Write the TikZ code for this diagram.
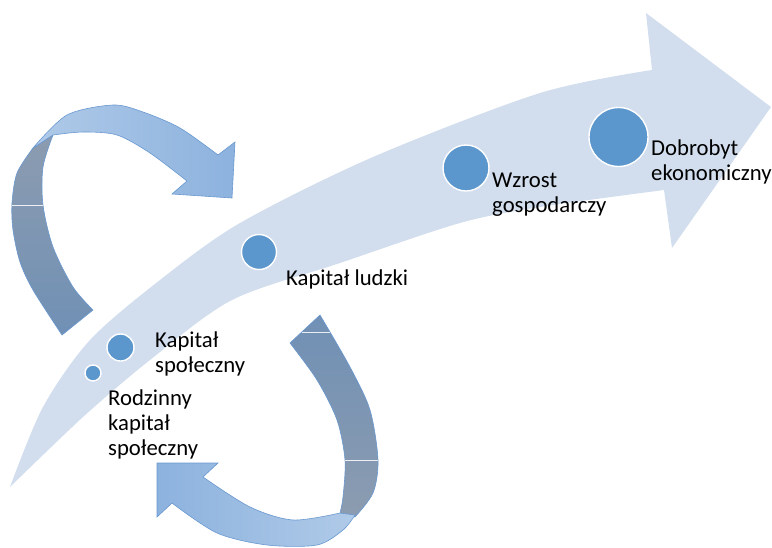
\documentclass[tikz,border=0pt]{standalone}
\usepackage{fontspec}
\setmainfont{Carlito}
\definecolor{bandcol}{RGB}{210,222,238}
\definecolor{dotcol}{RGB}{91,150,204}
\definecolor{ribA}{RGB}{176,202,232}
\definecolor{ribB}{RGB}{140,178,222}
\definecolor{darkA}{RGB}{140,156,176}
\definecolor{darkB}{RGB}{112,144,181}
\definecolor{edgecol}{RGB}{105,152,208}
\tikzset{
  bandshape/.style={fill=bandcol, draw=none},
  dot/.style={circle, fill=dotcol, draw=white, line width=1.4pt, inner sep=0pt},
  lbl/.style={inner sep=0pt, align=left, font=\fontsize{22.7}{25}\selectfont, text=black},
  ribbon/.style={draw=edgecol, line width=0.6pt},
  seam/.style={draw=white, line width=0.7pt, opacity=0.85}
}
\begin{document}
\begin{tikzpicture}[x=1pt,y=-1pt]
\useasboundingbox (0,0) rectangle (772,547);
% main curved arrow
\path[bandshape] plot[smooth] coordinates {(10,487) (43,407) (90,340) (160,280) (240,223) (373,157) (540,93) (652,70)}
  -- (646,13) -- (771,107) -- (672,248) -- (664,190)
  -- plot[smooth] coordinates {(664,190) (540,207) (460,223) (340,263) (232,300) (150,360) (83,417) (10,487)} -- cycle;
% top-left curved arrow: dark part
\path[ribbon, top color=darkA, bottom color=darkB]
  plot[smooth] coordinates {(33,148) (17,173) (12,203) (13,230) (20,262) (33,290) (62,335)}
  -- (93,310)
  -- plot[smooth] coordinates {(93,310) (73,287) (53,247) (43,205) (43,167) (53,135)} -- cycle;
\draw[seam] (12,205) -- (43,205);
% top-left curved arrow: light part
\path[ribbon, left color=ribA, right color=ribB]
  plot[smooth] coordinates {(33,148) (67,115) (113,105) (143,112) (180,128) (218,155)}
  -- (235,142) -- (232,198) -- (172,194) -- (187,181)
  -- plot[smooth] coordinates {(187,181) (150,153) (117,135) (83,132) (53,135)} -- cycle;
% bottom curved arrow: dark part
\path[ribbon, top color=darkB, bottom color=darkA]
  plot[smooth] coordinates {(320,315) (350,367) (370,410) (378,460) (373,493) (355,517)}
  -- plot[smooth] coordinates {(340,513) (343,497) (345,460) (337,420) (317,380) (290,343)} -- cycle;
\draw[seam] (302,332) -- (330,332);
\draw[seam] (345,460) -- (378,460);
% bottom curved arrow: light part
\path[ribbon, left color=ribB, right color=ribA]
  plot[smooth] coordinates {(355,515) (343,530) (317,545) (267,545) (217,533) (172,503)}
  -- (157,517) -- (157,463) -- (218,463) -- (203,477)
  -- plot[smooth] coordinates {(203,477) (250,507) (293,520) (340,513)} -- cycle;
% dots
\node[dot, minimum size=16pt] (d1) at (93,373) {};
\node[dot, minimum size=27pt] (d2) at (120.5,347.5) {};
\node[dot, minimum size=35pt] (d3) at (259,252) {};
\node[dot, minimum size=46pt] (d4) at (466,168) {};
\node[dot, minimum size=59pt] (d5) at (618.5,137) {};
% labels (base anchor = baseline of the last line)
\node[lbl, anchor=base west] (t1) at (108,455) {Rodzinny\\kapitał\\społeczny};
\node[lbl, anchor=base west] (t2) at (155,372) {Kapitał\\społeczny};
\node[lbl, anchor=base west] (t3) at (286,285) {Kapitał ludzki};
\node[lbl, anchor=base west] (t4) at (492,212) {Wzrost\\gospodarczy};
\node[lbl, anchor=base west] (t5) at (651,180) {Dobrobyt\\ekonomiczny};
\end{tikzpicture}
\end{document}
